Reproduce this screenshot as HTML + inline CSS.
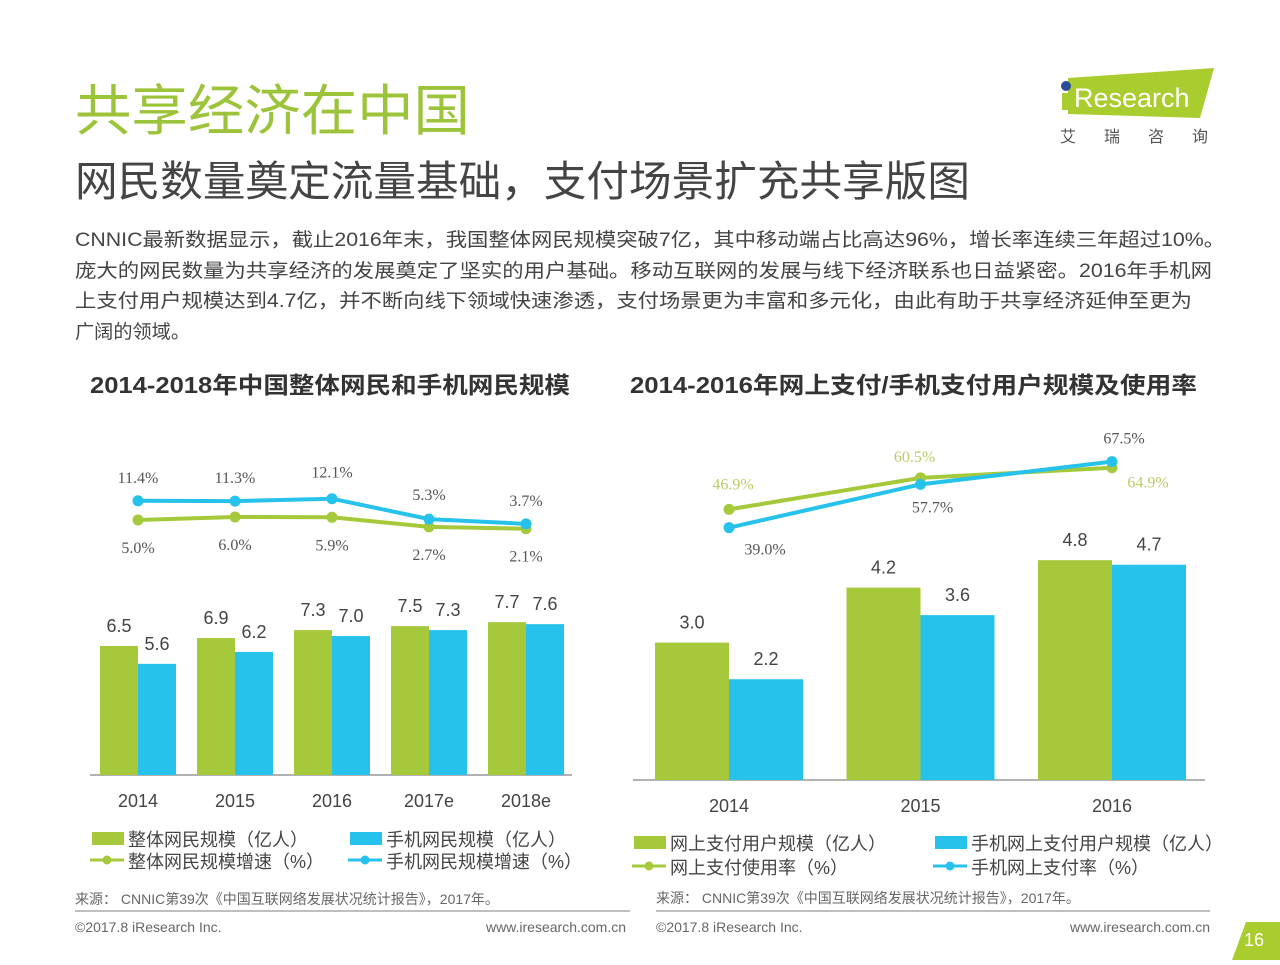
<!DOCTYPE html>
<html><head><meta charset="utf-8"><style>
body{margin:0;background:#fff;}
svg text{font-family:"Liberation Sans","Noto Sans CJK SC",sans-serif;}
</style></head><body>
<svg id="s" width="1280" height="960" viewBox="0 0 1280 960" xmlns="http://www.w3.org/2000/svg">
<text x="75" y="130" font-size="55" fill="#9cc43a" textLength="395" lengthAdjust="spacingAndGlyphs">共享经济在中国</text>
<text x="75" y="196" font-size="42" fill="#444" textLength="895" lengthAdjust="spacingAndGlyphs">网民数量奠定流量基础，支付场景扩充共享版图</text>
<g>
<polygon points="1068,78 1214,68 1200,118 1068,114" fill="#a9cc2e"/>
<circle cx="1066" cy="86" r="5" fill="#2a4a9a"/>
<rect x="1062" y="93" width="7" height="17" fill="#a9cc2e"/>
<text x="1074" y="107" font-size="27" fill="#fff">Research</text>
<text x="1060" y="142" font-size="16" fill="#555" letter-spacing="28">艾瑞咨询</text>
</g>
<g font-size="19" fill="#444">
<text x="75" y="246" textLength="1150" lengthAdjust="spacingAndGlyphs">CNNIC最新数据显示，截止2016年末，我国整体网民规模突破7亿，其中移动端占比高达96%，增长率连续三年超过10%。</text>
<text x="75" y="277" textLength="1137" lengthAdjust="spacingAndGlyphs">庞大的网民数量为共享经济的发展奠定了坚实的用户基础。移动互联网的发展与线下经济联系也日益紧密。2016年手机网</text>
<text x="75" y="307" textLength="1117" lengthAdjust="spacingAndGlyphs">上支付用户规模达到4.7亿，并不断向线下领域快速渗透，支付场景更为丰富和多元化，由此有助于共享经济延伸至更为</text>
<text x="75" y="338" textLength="115" lengthAdjust="spacingAndGlyphs">广阔的领域。</text>
</g>
<text x="90" y="393" font-size="23" font-weight="bold" fill="#333" textLength="480" lengthAdjust="spacingAndGlyphs">2014-2018年中国整体网民和手机网民规模</text>
<text x="630" y="393" font-size="23" font-weight="bold" fill="#333" textLength="567" lengthAdjust="spacingAndGlyphs">2014-2016年网上支付/手机支付用户规模及使用率</text>
<g id="L"></g><g id="R"></g>
<g font-size="18" fill="#444">
<rect x="92" y="832" width="32" height="13" fill="#a5c93a"/><text x="128" y="846">整体网民规模（亿人）</text>
<rect x="350" y="832" width="32" height="13" fill="#27c2ec"/><text x="386" y="846">手机网民规模（亿人）</text>
<line x1="90" y1="860" x2="124" y2="860" stroke="#a5c93a" stroke-width="3"/><circle cx="107" cy="860" r="4.5" fill="#a5c93a"/><text x="128" y="868">整体网民规模增速（%）</text>
<line x1="348" y1="860" x2="382" y2="860" stroke="#27c2ec" stroke-width="3"/><circle cx="365" cy="860" r="4.5" fill="#27c2ec"/><text x="386" y="868">手机网民规模增速（%）</text>
</g>
<g font-size="18" fill="#444">
<rect x="634" y="836" width="32" height="13" fill="#a5c93a"/><text x="670" y="850">网上支付用户规模（亿人）</text>
<rect x="935" y="836" width="32" height="13" fill="#27c2ec"/><text x="971" y="850">手机网上支付用户规模（亿人）</text>
<line x1="632" y1="866" x2="666" y2="866" stroke="#a5c93a" stroke-width="3"/><circle cx="649" cy="866" r="4.5" fill="#a5c93a"/><text x="670" y="874">网上支付使用率（%）</text>
<line x1="933" y1="866" x2="967" y2="866" stroke="#27c2ec" stroke-width="3"/><circle cx="950" cy="866" r="4.5" fill="#27c2ec"/><text x="971" y="874">手机网上支付率（%）</text>
</g>
<g font-size="14" fill="#666">
<text x="75" y="904">来源： CNNIC第39次《中国互联网络发展状况统计报告》，2017年。</text>
<line x1="75" y1="911" x2="630" y2="911" stroke="#aaa" stroke-width="1.5"/>
<text x="75" y="932">©2017.8 iResearch Inc.</text>
<text x="626" y="932" text-anchor="end">www.iresearch.com.cn</text>
<text x="656" y="903">来源： CNNIC第39次《中国互联网络发展状况统计报告》，2017年。</text>
<line x1="656" y1="911" x2="1210" y2="911" stroke="#aaa" stroke-width="1.5"/>
<text x="656" y="932">©2017.8 iResearch Inc.</text>
<text x="1210" y="932" text-anchor="end">www.iresearch.com.cn</text>
</g>
<polygon points="1232,960 1246,922 1280,922 1280,960" fill="#a9cc2e"/>
<text x="1254" y="946" font-size="18" fill="#fff" text-anchor="middle">16</text>
</svg>
<script>
const leftCats=["2014","2015","2016","2017e","2018e"];
const leftTotal=[6.5,6.9,7.3,7.5,7.7];
const leftMobile=[5.6,6.2,7.0,7.3,7.6];
const leftTotalRate=[5.0,6.0,5.9,2.7,2.1];
const leftMobileRate=[11.4,11.3,12.1,5.3,3.7];
const rightCats=["2014","2015","2016"];
const rightPay=[3.0,4.2,4.8];
const rightMobilePay=[2.2,3.6,4.7];
const rightPayRate=[46.9,60.5,64.9];
const rightMobileRate=[39.0,57.7,67.5];
const NS="http://www.w3.org/2000/svg";
const G="#a5c93a",B="#27c2ec";
function mk(p,t,a){const e=document.createElementNS(NS,t);for(const k in a)e.setAttribute(k,a[k]);p.appendChild(e);return e;}
function txt(p,x,y,s,size,fill,font){const e=mk(p,"text",{x:x,y:y,"font-size":size,fill:fill,"text-anchor":"middle"});if(font)e.setAttribute("style","font-family:'Liberation Serif',serif");e.textContent=s;return e;}
function chart(id,o){
 const g=document.getElementById(id);
 const cx=i=>o.x0+o.step*i;
 const yb=v=>o.base-v*o.bs;
 const yl=v=>o.la-v*o.lb;
 mk(g,"line",{x1:o.ax0,y1:o.base,x2:o.ax1,y2:o.base,stroke:"#999","stroke-width":1.5});
 o.cats.forEach((c,i)=>{
  const t=txt(g,cx(i),o.base+32,c,18,"#444");
  
  
  [[o.b1,G,-o.bw],[o.b2,B,0]].forEach(([arr,col,off],k)=>{
   const r=mk(g,"rect",{x:cx(i)+off,y:yb(arr[i]),width:o.bw,height:arr[i]*o.bs,fill:col});
   
   
   const lx=cx(i)+off+o.bw/2;
   const lt=txt(g,lx,yb(arr[i])-14,arr[i].toFixed(1),18,"#444");
   
   
  });
 });
 [[o.l1,G,o.l1lab,o.l1col],[o.l2,B,o.l2lab,"#555"]].forEach(([arr,col,lab,lc])=>{
  const pts=arr.map((v,i)=>cx(i)+","+yl(v)).join(" ");
  const pl=mk(g,"polyline",{points:pts,fill:"none",stroke:col,"stroke-width":4});
  
  
  arr.forEach((v,i)=>{
   const c=mk(g,"circle",{cx:cx(i),cy:yl(v),r:5.5,fill:col});
   
   
   const t=txt(g,cx(i)+lab[i][0],yl(v)+lab[i][1],v.toFixed(1)+"%",16,lc,1);
   
   
  });
 });
}
chart("L",{cats:leftCats,x0:138,step:97,base:775,bs:19.85,bw:38,ax0:90,ax1:572,
 b1:leftTotal,b2:leftMobile,la:535,lb:3,
 l1:leftTotalRate,l2:leftMobileRate,l1col:"#555",
 l1lab:[[0,33],[0,33],[0,33],[0,33],[0,33]],
 l2lab:[[0,-18],[0,-18],[0,-21],[0,-19],[0,-18]]});
chart("R",{cats:rightCats,x0:729,step:191.5,base:780,bs:45.8,bw:74,ax0:633,ax1:1205,
 b1:rightPay,b2:rightMobilePay,la:618,lb:2.316,
 l1:rightPayRate,l2:rightMobileRate,l1col:"#b8cc6a",
 l1lab:[[4,-20],[-6,-16],[36,20]],
 l2lab:[[36,27],[12,28],[12,-18]]});
</script>
</body></html>
